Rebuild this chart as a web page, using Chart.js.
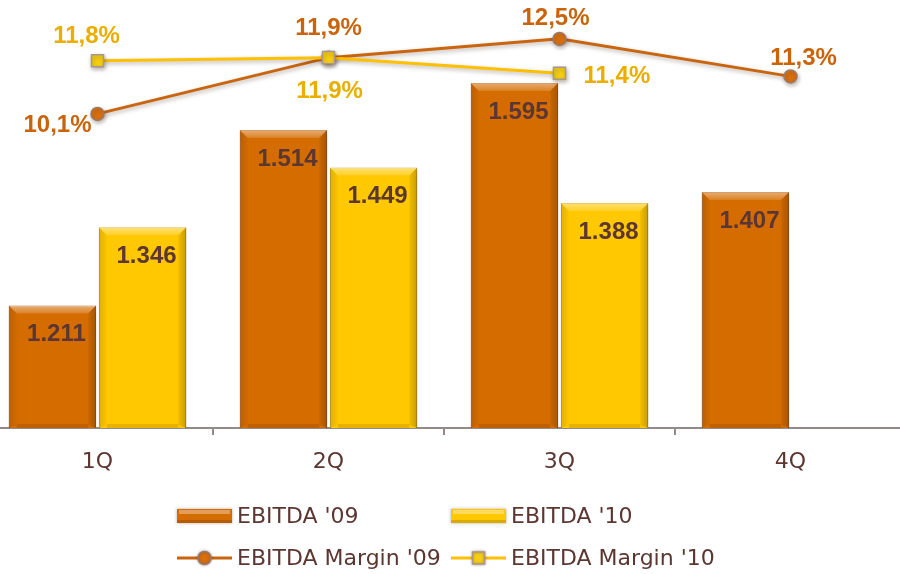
<!DOCTYPE html>
<html>
<head>
<meta charset="utf-8">
<script src="https://cdn.jsdelivr.net/npm/chart.js@4.4.0/dist/chart.umd.min.js"></script>
<style>
  html, body { margin: 0; padding: 0; background: #fff; overflow: hidden; }
  #wrap { position: absolute; left: -18px; top: 0; width: 924px; height: 574px; }
</style>
</head>
<body>
<div id="wrap"><canvas id="ebitdaChart"></canvas></div>
<script>
// Quarterly EBITDA ('09 vs '10) with EBITDA margin lines
const quarters = ['1Q', '2Q', '3Q', '4Q'];
const ebitda09 = [1211, 1514, 1595, 1407];
const ebitda10 = [1346, 1449, 1388, null];
const margin09 = [10.1, 11.9, 12.5, 11.3];
const margin10 = [11.8, 11.9, 11.4, null];

const ebitdaMin = 1000;
const ebitdaMax = 1700;

const textColor = '#5C3631';
const orange = '#D56C00';
const yellow = '#FFC800';
const line09 = '#C9650E';
const line10 = '#FFC000';
const labelFont = '"DejaVu Sans", sans-serif';

// where each margin label sits relative to its point: [dx, dy, align]
const marginLabelPos09 = [[-6, 11, 'right'], [0, -29, 'center'], [-4, -21, 'center'], [13, -18, 'center']];
const marginLabelPos10 = [[-11, -24, 'center'], [1, 34, 'center'], [24, 3, 'left'], null];

const thousands = v => String(v).replace(/\B(?=(\d{3})+(?!\d))/g, '.');
const pct = v => v.toFixed(1).replace('.', ',') + '%';

// bevelled look on the bars + soft drop shadow
const bevelPlugin = {
  id: 'bevel',
  beforeDatasetDraw(chart, args) {
    const ds = chart.data.datasets[args.index];
    const ctx = chart.ctx;
    ctx.save();
    ctx.shadowColor = ds.type === 'bar' ? 'rgba(60,40,30,0.45)' : 'rgba(60,40,30,0.35)';
    ctx.shadowBlur = ds.type === 'bar' ? 5 : 4;
    ctx.shadowOffsetX = 1;
    ctx.shadowOffsetY = 2;
  },
  afterDatasetDraw(chart, args) {
    const ctx = chart.ctx;
    ctx.restore();
    const ds = chart.data.datasets[args.index];
    if (ds.type !== 'bar') return;
    args.meta.data.forEach((el, i) => {
      if (ds.data[i] == null) return;
      const l = el.x - el.width / 2, r = el.x + el.width / 2;
      const t = el.y, b = el.base, e = 8;
      ctx.save();
      let g = ctx.createLinearGradient(0, t, 0, t + e);
      g.addColorStop(0, 'rgba(255,255,255,0.45)');
      g.addColorStop(1, 'rgba(255,255,255,0.15)');
      ctx.fillStyle = g;
      ctx.beginPath();
      ctx.moveTo(l, t); ctx.lineTo(r, t); ctx.lineTo(r - e, t + e); ctx.lineTo(l + e, t + e);
      ctx.closePath(); ctx.fill();
      g = ctx.createLinearGradient(l, 0, l + e, 0);
      g.addColorStop(0, 'rgba(0,0,0,0.12)');
      g.addColorStop(1, 'rgba(0,0,0,0.02)');
      ctx.fillStyle = g;
      ctx.beginPath();
      ctx.moveTo(l, t); ctx.lineTo(l + e, t + e); ctx.lineTo(l + e, b - 3); ctx.lineTo(l, b);
      ctx.closePath(); ctx.fill();
      g = ctx.createLinearGradient(r - e, 0, r, 0);
      g.addColorStop(0, 'rgba(0,0,0,0.05)');
      g.addColorStop(1, 'rgba(0,0,0,0.22)');
      ctx.fillStyle = g;
      ctx.beginPath();
      ctx.moveTo(r, t); ctx.lineTo(r - e, t + e); ctx.lineTo(r - e, b - 3); ctx.lineTo(r, b);
      ctx.closePath(); ctx.fill();
      ctx.fillStyle = 'rgba(0,0,0,0.10)';
      ctx.fillRect(l + e, b - 4, el.width - 2 * e, 4);
      ctx.restore();
    });
  }
};

// value labels on bars and margin points
const labelPlugin = {
  id: 'valueLabels',
  afterDatasetsDraw(chart) {
    const ctx = chart.ctx;
    ctx.save();
    ctx.font = 'bold 24px "Liberation Sans", Arial, sans-serif';
    ctx.textBaseline = 'middle';
    chart.data.datasets.forEach((ds, di) => {
      const meta = chart.getDatasetMeta(di);
      meta.data.forEach((el, i) => {
        const v = ds.data[i];
        if (v == null) return;
        if (ds.type === 'bar') {
          ctx.fillStyle = textColor;
          ctx.textAlign = 'center';
          ctx.fillText(thousands(v), el.x + 4, el.y + 29);
        } else {
          const p = ds.labelPos[i];
          ctx.fillStyle = ds.labelColor;
          ctx.textAlign = p[2];
          ctx.fillText(pct(v), el.x + p[0], el.y + p[1]);
        }
      });
    });
    ctx.restore();
  }
};

// two-column legend under the axis
const legendPlugin = {
  id: 'gridLegend',
  afterDraw(chart) {
    const ctx = chart.ctx;
    const sets = chart.data.datasets;
    const ox = 18;
    const cols = [177 + ox, 451 + ox];
    const rows = [516, 558];
    ctx.save();
    ctx.font = '22px ' + labelFont;
    ctx.textBaseline = 'middle';
    ctx.textAlign = 'left';
    [0, 1, 2, 3].forEach(k => {
      const ds = sets.find(s => s.legendIndex === k);
      const x = cols[k % 2], y = rows[Math.floor(k / 2)];
      if (ds.type === 'bar') {
        ctx.save();
        ctx.shadowColor = 'rgba(60,40,30,0.4)';
        ctx.shadowBlur = 3;
        ctx.fillStyle = ds.backgroundColor;
        ctx.fillRect(x, y - 7, 55, 14);
        ctx.restore();
        ctx.fillStyle = 'rgba(255,255,255,0.35)';
        ctx.fillRect(x + 2, y - 6, 51, 4);
        ctx.fillStyle = 'rgba(0,0,0,0.15)';
        ctx.fillRect(x, y + 4, 55, 3);
      } else {
        ctx.strokeStyle = ds.borderColor;
        ctx.lineWidth = 3;
        ctx.beginPath(); ctx.moveTo(x, y); ctx.lineTo(x + 55, y); ctx.stroke();
        ctx.save();
        ctx.shadowColor = 'rgba(60,40,30,0.4)';
        ctx.shadowBlur = 3;
        ctx.fillStyle = ds.pointBackgroundColor;
        ctx.strokeStyle = ds.pointBorderColor;
        ctx.lineWidth = 1.5;
        ctx.beginPath();
        if (ds.pointStyle === 'rect') ctx.rect(x + 21.5, y - 6, 12, 12);
        else ctx.arc(x + 27.5, y, 6.5, 0, Math.PI * 2);
        ctx.fill(); ctx.stroke();
        ctx.restore();
      }
      ctx.fillStyle = textColor;
      ctx.fillText(ds.label, x + 60, y + 1);
    });
    ctx.restore();
  }
};

const ctx = document.getElementById('ebitdaChart').getContext('2d');
new Chart(ctx, {
  data: {
    labels: quarters,
    datasets: [
      {
        type: 'line', label: "EBITDA Margin '10", legendIndex: 3, data: margin10, yAxisID: 'yMargin', order: 0,
        borderColor: line10, borderWidth: 3, pointStyle: 'rect', pointRadius: 8.5,
        pointBackgroundColor: '#F7CF10', pointBorderColor: '#A8978A', pointBorderWidth: 1.5,
        labelColor: '#E9AE00', labelPos: marginLabelPos10
      },
      {
        type: 'line', label: "EBITDA Margin '09", legendIndex: 2, data: margin09, yAxisID: 'yMargin', order: 1,
        borderColor: line09, borderWidth: 3, pointStyle: 'circle', pointRadius: 6.5,
        pointBackgroundColor: '#D9700F', pointBorderColor: '#9A7A6A', pointBorderWidth: 1.5,
        labelColor: '#C9640C', labelPos: marginLabelPos09
      },
      {
        type: 'bar', label: "EBITDA '09", legendIndex: 0, data: ebitda09, yAxisID: 'y', order: 2, base: ebitdaMin,
        backgroundColor: orange, borderColor: '#B65800', borderWidth: 1, borderSkipped: 'bottom'
      },
      {
        type: 'bar', label: "EBITDA '10", legendIndex: 1, data: ebitda10, yAxisID: 'y', order: 2, base: ebitdaMin,
        backgroundColor: yellow, borderColor: '#DDA600', borderWidth: 1, borderSkipped: 'bottom'
      }
    ]
  },
  options: {
    responsive: true,
    maintainAspectRatio: false,
    animation: false,
    datasets: { bar: { categoryPercentage: 0.78, barPercentage: 0.97 } },
    layout: { autoPadding: false, padding: { top: 22, left: 0, right: 0, bottom: 0 } },
    plugins: { legend: { display: false }, tooltip: { enabled: false } },
    scales: {
      x: {
        grid: { offset: true, drawOnChartArea: false, drawTicks: true, tickLength: 7, color: '#948A8A', lineWidth: 2 },
        border: { display: true, color: '#948A8A', width: 2 },
        ticks: { color: textColor, padding: 14, font: { family: labelFont, size: 22 } },
        afterFit(scale) { scale.height = 146; }
      },
      y: { display: false, min: ebitdaMin, max: ebitdaMax },
      yMargin: { display: false, min: 0.05, max: 13.04 }
    }
  },
  plugins: [bevelPlugin, labelPlugin, legendPlugin]
});
</script>
</body>
</html>
